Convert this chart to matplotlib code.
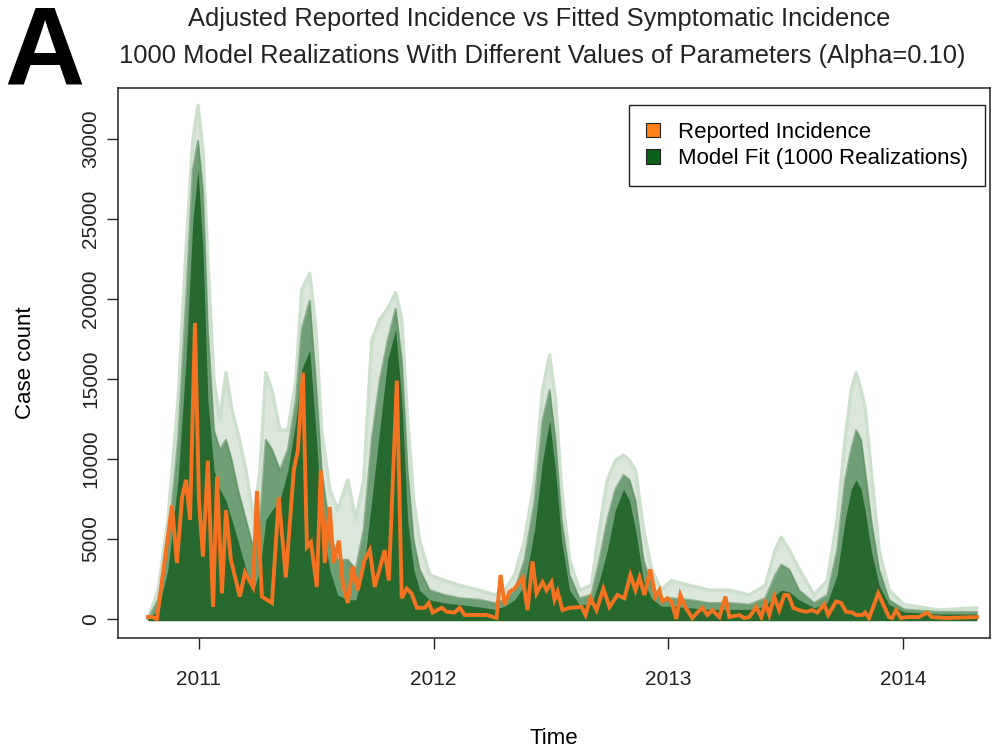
import numpy as np
import matplotlib
matplotlib.use("Agg")
import matplotlib.pyplot as plt
from matplotlib.patches import Patch

plt.rcParams['font.family'] = ['Liberation Sans', 'DejaVu Sans']

# Reported incidence (weekly)
rep_time = [2010.783, 2010.800, 2010.821, 2010.847, 2010.885, 2010.906, 2010.928, 2010.945,
            2010.962, 2010.983, 2011.000, 2011.017, 2011.038, 2011.060, 2011.077, 2011.098,
            2011.115, 2011.136, 2011.174, 2011.196, 2011.230, 2011.247, 2011.268, 2011.311,
            2011.340, 2011.370, 2011.404, 2011.421, 2011.443, 2011.460, 2011.477, 2011.502,
            2011.519, 2011.536, 2011.557, 2011.574, 2011.596, 2011.613, 2011.634, 2011.655,
            2011.677, 2011.706, 2011.728, 2011.749, 2011.791, 2011.809, 2011.843, 2011.864,
            2011.885, 2011.906, 2011.928, 2011.962, 2011.979, 2011.996, 2012.034, 2012.055,
            2012.089, 2012.111, 2012.132, 2012.226, 2012.268, 2012.285, 2012.302, 2012.323,
            2012.345, 2012.379, 2012.400, 2012.421, 2012.438, 2012.464, 2012.481, 2012.502,
            2012.515, 2012.528, 2012.549, 2012.579, 2012.630, 2012.647, 2012.668, 2012.694,
            2012.723, 2012.749, 2012.783, 2012.813, 2012.838, 2012.860, 2012.877, 2012.898,
            2012.923, 2012.945, 2012.962, 2012.974, 2012.996, 2013.013, 2013.034, 2013.051,
            2013.072, 2013.102, 2013.123, 2013.145, 2013.166, 2013.187, 2013.217, 2013.243,
            2013.260, 2013.302, 2013.323, 2013.345, 2013.374, 2013.396, 2013.413, 2013.430,
            2013.451, 2013.472, 2013.494, 2013.511, 2013.532, 2013.557, 2013.587, 2013.613,
            2013.634, 2013.664, 2013.681, 2013.715, 2013.736, 2013.757, 2013.783, 2013.800,
            2013.826, 2013.838, 2013.855, 2013.894, 2013.940, 2013.953, 2013.970, 2013.991,
            2014.017, 2014.068, 2014.102, 2014.123, 2014.183, 2014.315]
rep_cases = [125, 125, 0, 2900, 7100, 3500, 7600, 8700,
             6200, 18500, 7400, 3900, 9900, 750, 8900, 1600,
             6800, 3700, 1400, 2900, 2000, 8000, 1400, 1000,
             7600, 2600, 9300, 10500, 15400, 4500, 4800, 2000,
             9300, 3500, 7000, 3500, 4900, 2200, 1000, 3300,
             1800, 3700, 4300, 2000, 4300, 2400, 14900, 1300,
             1900, 1600, 700, 700, 1000, 400, 700, 450,
             400, 700, 250, 250, 60, 2750, 900, 1700,
             1900, 2600, 550, 3600, 1600, 2300, 1800, 2300,
             1200, 1700, 550, 700, 750, 250, 1300, 550,
             1900, 750, 1500, 1300, 2750, 1800, 2600, 1500,
             3100, 1400, 1800, 1100, 1300, 1100, 0, 1500,
             750, 60, 400, 700, 250, 550, 120, 1400,
             120, 250, 60, 120, 750, 120, 1000, 250,
             1400, 550, 1500, 1500, 700, 550, 450, 550,
             400, 900, 250, 1100, 1000, 450, 400, 250,
             250, 400, 60, 1600, 120, 60, 550, 60,
             120, 120, 400, 120, 60, 120]

# Model realizations summarised as envelopes (max, upper, dense core)
fit_time = [2010.783, 2010.826, 2010.868, 2010.911, 2010.945, 2010.974, 2010.996, 2011.017,
            2011.038, 2011.064, 2011.089, 2011.115, 2011.140, 2011.166, 2011.200, 2011.234,
            2011.260, 2011.285, 2011.311, 2011.345, 2011.379, 2011.413, 2011.438, 2011.472,
            2011.498, 2011.523, 2011.557, 2011.591, 2011.634, 2011.668, 2011.702, 2011.736,
            2011.770, 2011.804, 2011.838, 2011.864, 2011.889, 2011.915, 2011.940, 2011.983,
            2012.047, 2012.111, 2012.196, 2012.260, 2012.302, 2012.345, 2012.387, 2012.430,
            2012.464, 2012.494, 2012.519, 2012.545, 2012.579, 2012.621, 2012.672, 2012.706,
            2012.740, 2012.774, 2012.809, 2012.834, 2012.860, 2012.894, 2012.928, 2012.970,
            2013.013, 2013.089, 2013.174, 2013.260, 2013.345, 2013.413, 2013.455, 2013.481,
            2013.515, 2013.557, 2013.621, 2013.677, 2013.719, 2013.753, 2013.779, 2013.800,
            2013.821, 2013.838, 2013.864, 2013.898, 2013.940, 2014.004, 2014.153, 2014.315]
fit_max = [0, 1800, 6200, 13700, 23100, 29900, 32100, 29300,
           22400, 14900, 12400, 15400, 13100, 11600, 9300, 6200,
           9300, 15400, 14300, 11800, 11800, 14900, 20600, 21600,
           18100, 11800, 8100, 6800, 8700, 6200, 8700, 17400,
           18700, 19400, 20400, 18700, 12400, 7400, 4900, 2750,
           2400, 2100, 1800, 1500, 1800, 2750, 4900, 8700,
           14300, 16500, 13700, 8100, 3700, 1800, 2100, 5600,
           8700, 9900, 10250, 9900, 9300, 5600, 3100, 1800,
           2400, 2100, 1800, 1800, 1500, 2100, 4300, 5100,
           4300, 3100, 1500, 2400, 6200, 11200, 14300, 15400,
           14300, 13250, 9300, 4300, 1800, 900, 560, 700]
fit_upper = [0, 1200, 4600, 11200, 19900, 28100, 29900, 26800,
             18100, 11800, 10600, 11200, 9900, 8100, 6200, 4300,
             6200, 11200, 10600, 9300, 10600, 13700, 18100, 19900,
             14900, 9300, 5600, 3700, 3700, 3100, 5600, 11200,
             14900, 17400, 19400, 16200, 9300, 4900, 3100, 1800,
             1500, 1300, 1200, 1000, 1200, 1800, 3700, 7400,
             12400, 14300, 11200, 6200, 2750, 1300, 1500, 3700,
             6200, 8100, 9000, 8700, 7400, 3700, 2100, 1200,
             1300, 1200, 1000, 1000, 900, 1300, 2750, 3400,
             3100, 1800, 1000, 1500, 4300, 8700, 10600, 11800,
             11200, 9300, 6200, 3100, 1200, 600, 440, 440]
fit_core = [0, 560, 3100, 8700, 16200, 24900, 28100, 23100,
            13700, 9300, 8100, 7400, 6200, 4900, 3100, 1800,
            3100, 6200, 6800, 7400, 9300, 12400, 15600, 16800,
            11800, 6200, 3100, 1500, 1200, 1200, 3100, 7400,
            11800, 16200, 18100, 13700, 6200, 3100, 1800, 1200,
            1000, 900, 750, 600, 800, 1200, 2100, 5600,
            9900, 12400, 9300, 4900, 1800, 900, 900, 2400,
            4300, 6800, 8100, 7400, 5600, 2400, 1300, 800,
            800, 700, 600, 600, 600, 800, 1500, 1800,
            1700, 1200, 700, 1000, 2750, 6200, 8100, 8700,
            8100, 6800, 4300, 2100, 900, 440, 310, 310]

y_ticks = [0, 5000, 10000, 15000, 20000, 25000, 30000]
x_ticks = [2011, 2012, 2013, 2014]

orange = '#f47321'
dark_green = '#27682f'

fig = plt.figure(figsize=(10.05, 7.51), dpi=100)
ax = fig.add_axes([0.1174, 0.1505, 0.8676, 0.7323])

# realizations: faint outer envelope, mid band, dense core
ax.fill_between(fit_time, 0, fit_max, color='#dae7da', lw=0)
ax.fill_between(fit_time, 0, fit_upper, color='#6f9f74', lw=0)
ax.fill_between(fit_time, 0, fit_core, color=dark_green, lw=0)
ax.plot(fit_time, fit_max, color='#cddfcd', lw=2.5, solid_capstyle='round')
ax.plot(fit_time, fit_upper, color='#5a8d5f', lw=1.5, alpha=0.6)
ax.hlines(0, fit_time[0], fit_time[-1], color=dark_green, lw=2.5)

ax.plot(rep_time, rep_cases, color=orange, lw=2.8, solid_joinstyle='miter')

ax.set_xlim(2010.655, 2014.37)
ax.set_ylim(-1187, 33187)
ax.set_xticks(x_ticks)
ax.set_yticks(y_ticks)
ax.set_yticklabels([str(v) for v in y_ticks], rotation=90, va='center')
ax.tick_params(axis='both', direction='out', length=8, width=1, labelsize=15, colors='#222222')
ax.tick_params(axis='x', pad=15)
ax.tick_params(axis='y', pad=5)
for sp in ax.spines.values():
    sp.set_linewidth(1.1)
    sp.set_color('#222222')

ax.set_xlabel('Time', fontsize=16, labelpad=28)
ax.set_ylabel('Case count', fontsize=16, labelpad=32)

handles = [Patch(facecolor='#ff8019', edgecolor='#222222', lw=0.8),
           Patch(facecolor='#0b6216', edgecolor='#222222', lw=0.8)]
leg = ax.legend(handles, ['Reported Incidence', 'Model Fit (1000 Realizations)'],
                loc='upper right', bbox_to_anchor=(0.994, 0.969), fontsize=16,
                fancybox=False, framealpha=1, edgecolor='#222222',
                handlelength=0.65, handleheight=0.65, handletextpad=0.8,
                borderpad=0.75, labelspacing=0.25, borderaxespad=0)
leg.get_frame().set_linewidth(1.0)

fig.text(0.537, 0.975, 'Adjusted Reported Incidence vs Fitted Symptomatic Incidence',
         ha='center', va='center', fontsize=18.4, color='#222222')
fig.text(0.540, 0.926, '1000 Model Realizations With Different Values of Parameters (Alpha=0.10)',
         ha='center', va='center', fontsize=18.4, color='#222222')
fig.text(0.004, 0.887, 'A', ha='left', va='baseline', fontsize=80, fontweight='bold')

fig.savefig('out.png', dpi=100)
